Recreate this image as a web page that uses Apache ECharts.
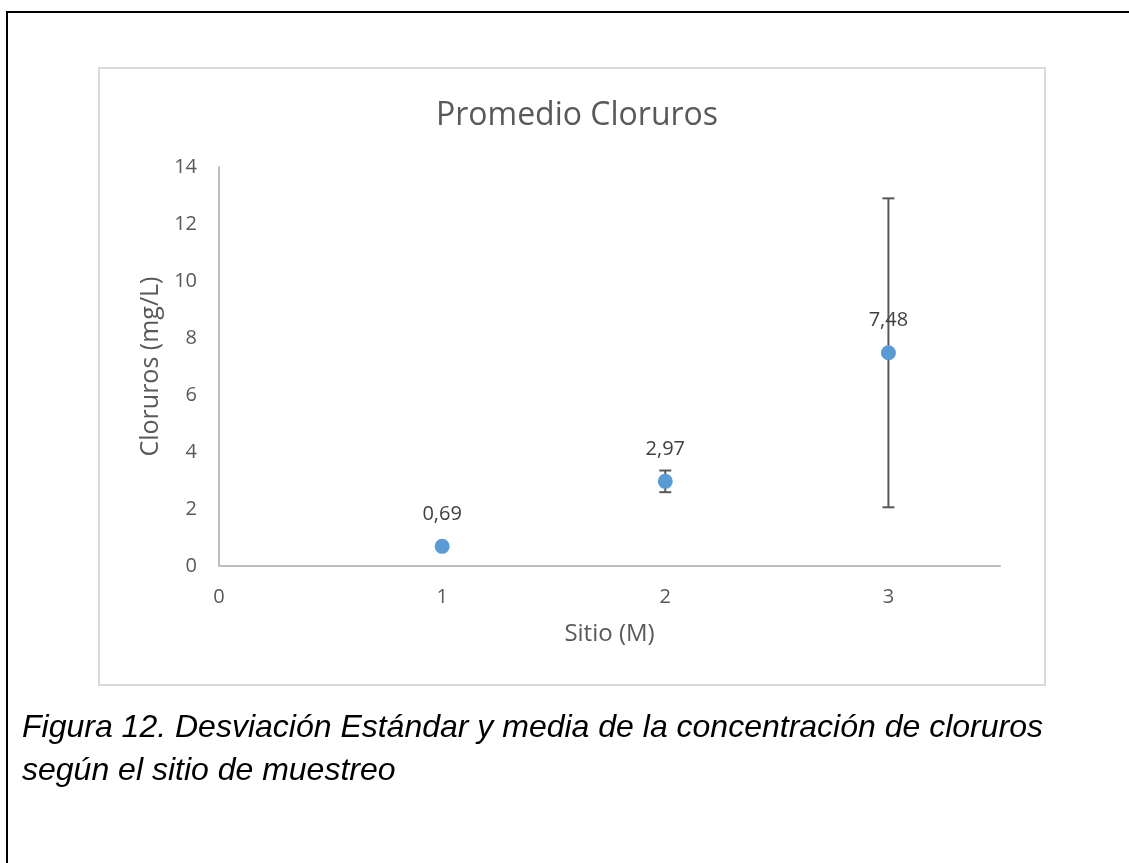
<!DOCTYPE html>
<html>
<head>
<meta charset="utf-8">
<script src="https://cdn.jsdelivr.net/npm/echarts@6/dist/echarts.min.js"></script>
<style>
html,body{margin:0;padding:0;background:#fff;}
#c{width:1129px;height:863px;}
</style>
</head>
<body>
<div id="c"></div>
<script>
// ---- data ----
const sites = [1, 2, 3];
const means = [0.69, 2.97, 7.48];
const sds = [0.08, 0.38, 5.42];
const yTicks = [0, 2, 4, 6, 8, 10, 12, 14];
const xTicks = [0, 1, 2, 3];
const titleText = 'Promedio Cloruros';
const xName = 'Sitio (M)';
const yName = 'Cloruros (mg/L)';
const captionLines = [
  'Figura 12. Desviación Estándar y media de la concentración de cloruros',
  'según el sitio de muestreo'
];

const pointData = sites.map((s, i) => [s, means[i]]);
const errData = sites.map((s, i) => [s, means[i] - sds[i], means[i] + sds[i]]);

const FONT = '"Open Sans", sans-serif';
const chart = echarts.init(document.getElementById('c'), null, {renderer: 'canvas'});

chart.setOption({
  backgroundColor: '#ffffff',
  animation: false,
  title: {
    text: titleText,
    left: 572,
    top: 95,
    textAlign: 'center',
    textStyle: {fontFamily: FONT, fontSize: 32, fontWeight: 'normal', color: '#595959'}
  },
  grid: {left: 219, top: 167, width: 781, height: 399, containLabel: false},
  xAxis: {
    type: 'value',
    min: 0, max: 3.5, interval: 1,
    name: xName,
    nameLocation: 'middle',
    nameGap: 56,
    nameTextStyle: {fontFamily: FONT, fontSize: 24, color: '#595959'},
    axisLine: {show: true, lineStyle: {color: '#bfbfbf', width: 2}},
    axisTick: {show: false},
    splitLine: {show: false},
    axisLabel: {
      fontFamily: FONT, fontSize: 20, color: '#595959', margin: 21,
      formatter: v => (xTicks.indexOf(v) >= 0 ? String(v) : '')
    }
  },
  yAxis: {
    type: 'value',
    min: 0, max: 14, interval: 2,
    name: yName,
    nameLocation: 'middle',
    nameGap: 56,
    nameTextStyle: {fontFamily: FONT, fontSize: 25, color: '#595959'},
    axisLine: {show: true, lineStyle: {color: '#bfbfbf', width: 2}},
    axisTick: {show: false},
    splitLine: {show: false},
    axisLabel: {
      fontFamily: FONT, fontSize: 20, color: '#595959', margin: 22,
      formatter: v => (yTicks.indexOf(v) >= 0 ? String(v) : '')
    }
  },
  series: [
    {
      type: 'custom',
      z: 2,
      data: errData,
      renderItem: function (params, api) {
        const x = api.value(0);
        const lo = api.coord([x, api.value(1)]);
        const hi = api.coord([x, api.value(2)]);
        const w = 6;
        const st = {stroke: '#595959', lineWidth: 2};
        return {
          type: 'group',
          children: [
            {type: 'line', shape: {x1: hi[0], y1: hi[1], x2: lo[0], y2: lo[1]}, style: st},
            {type: 'line', shape: {x1: hi[0] - w, y1: hi[1], x2: hi[0] + w, y2: hi[1]}, style: st},
            {type: 'line', shape: {x1: lo[0] - w, y1: lo[1], x2: lo[0] + w, y2: lo[1]}, style: st}
          ]
        };
      }
    },
    {
      type: 'scatter',
      z: 3,
      data: pointData,
      symbol: 'circle',
      symbolSize: 15,
      itemStyle: {color: '#5B9BD5', opacity: 1},
      label: {
        show: true,
        position: 'top',
        distance: 15,
        fontFamily: FONT,
        fontSize: 20,
        color: '#404040',
        formatter: p => p.value[1].toFixed(2).replace('.', ',')
      }
    }
  ],
  graphic: [
    {type: 'line', shape: {x1: 7, y1: 12, x2: 1129, y2: 12}, style: {stroke: '#000', lineWidth: 2}, silent: true},
    {type: 'line', shape: {x1: 7, y1: 11, x2: 7, y2: 863}, style: {stroke: '#000', lineWidth: 2}, silent: true},
    {type: 'rect', shape: {x: 99, y: 68, width: 946, height: 617}, style: {fill: 'none', stroke: '#d9d9d9', lineWidth: 2}, silent: true, z: -10},
    {type: 'text', left: 22, top: 712, style: {text: captionLines[0], font: 'italic 32px "Liberation Sans", Arial, sans-serif', fill: '#000'}, silent: true},
    {type: 'text', left: 22, top: 755, style: {text: captionLines[1], font: 'italic 32px "Liberation Sans", Arial, sans-serif', fill: '#000'}, silent: true}
  ]
});
</script>
</body>
</html>
